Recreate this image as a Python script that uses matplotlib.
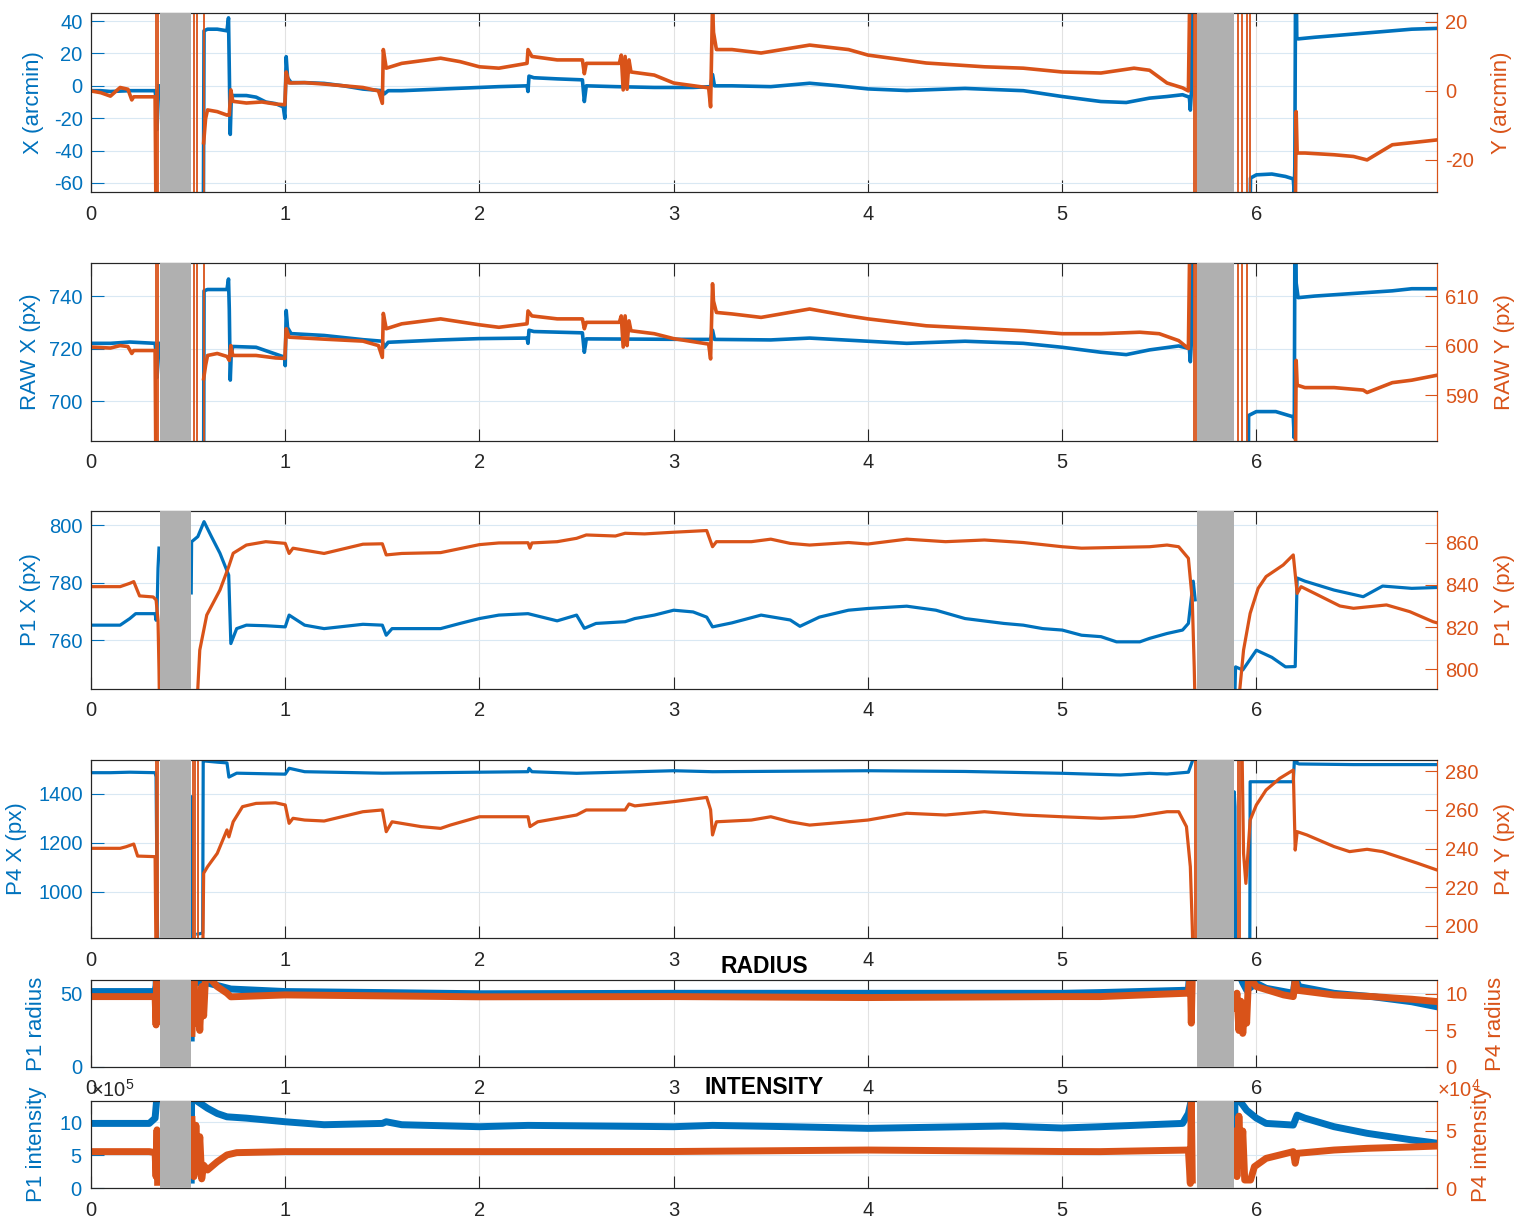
import numpy as np
import matplotlib
matplotlib.use('Agg')
import matplotlib.pyplot as plt
from matplotlib.ticker import ScalarFormatter

plt.rcParams['font.family'] = ['Liberation Sans', 'DejaVu Sans']
plt.rcParams['mathtext.fontset'] = 'custom'
plt.rcParams['mathtext.rm'] = 'Liberation Sans'
plt.rcParams['axes.unicode_minus'] = False

nan = np.nan
BLUE = '#0072BD'
ORANGE = '#D95319'
DARK = '#262626'
GRAY = '#b0b0b0'
XMAX = 6.93

# time windows with no tracking (grey bands)
gaps = [(0.355, 0.515), (5.695, 5.886)]

# ---- panel 1: gaze X / Y in arcmin  (t, value)
x_arcmin = [(0.00, -3), (0.05, -3), (0.10, -3.5), (0.20, -3), (0.30, -3), (0.33, -3), (0.335, -8), (0.34, -27),
            (0.345, -10), (0.35, 0), (0.355, nan),
            (0.578, -100), (0.582, 34), (0.60, 35), (0.65, 35), (0.70, 34), (0.708, 42), (0.712, 10), (0.717, -30),
            (0.722, -8), (0.73, -6), (0.80, -6), (0.85, -7), (0.90, -10), (0.95, -11), (0.99, -13), (0.998, -20),
            (1.005, 18), (1.012, 5), (1.03, 2), (1.10, 2), (1.20, 1.5), (1.30, 0), (1.40, -2), (1.50, -3), (1.51, -5),
            (1.53, -3), (1.60, -3), (1.80, -2), (2.00, -1), (2.10, -0.5), (2.245, 0), (2.25, -3.5), (2.255, 6),
            (2.28, 5), (2.40, 4.3), (2.53, 3.7), (2.54, -9.7), (2.55, 0), (2.70, -0.5), (2.90, -1), (3.10, -1),
            (3.19, -0.5), (3.20, 7), (3.21, 0), (3.30, 0), (3.50, -0.5), (3.70, 1.6), (3.85, 0), (4.00, -1.9),
            (4.20, -2.9), (4.50, -1.6), (4.80, -3), (5.00, -6.6), (5.20, -9.7), (5.33, -10.3), (5.45, -7.6),
            (5.54, -6.6), (5.62, -5.5), (5.655, -7), (5.66, -15), (5.665, -5), (5.675, 100), (5.68, nan),
            (5.965, -100), (5.97, -57), (6.00, -55), (6.08, -54.5), (6.15, -56), (6.19, -57.5), (6.195, -66),
            (6.198, -50), (6.203, 100), (6.208, 30), (6.215, 29), (6.30, 30), (6.50, 32), (6.70, 34), (6.80, 35),
            (6.93, 35.5)]
y_arcmin = [(0.00, 0), (0.05, -0.5), (0.10, -1.5), (0.15, 1), (0.19, 0.5), (0.21, -2.6), (0.22, -1.7), (0.33, -1.7),
            (0.335, -40), (0.336, nan),
            (0.58, -15), (0.59, -8), (0.60, -5.5),
            (0.65, -6), (0.70, -7), (0.712, -7), (0.72, 0.3), (0.73, -3), (0.80, -3.5), (0.88, -3.2), (0.95, -3.8),
            (0.998, -4), (1.005, 5.5), (1.02, 2.3), (1.10, 2.4), (1.20, 2), (1.30, 1.5), (1.40, 1), (1.48, 0),
            (1.50, -3.6), (1.505, 12), (1.52, 6.6), (1.60, 8), (1.80, 9.5), (1.90, 8.5), (2.00, 7), (2.10, 6.6),
            (2.245, 8), (2.25, 12), (2.27, 10), (2.40, 9), (2.53, 9), (2.54, 5), (2.55, 8), (2.72, 8), (2.73, 10.4),
            (2.74, 0.3), (2.75, 10), (2.76, 0.5), (2.77, 9), (2.78, 5.5), (2.90, 4.6), (3.00, 2.3), (3.18, 0.9),
            (3.19, -4.6), (3.20, 25), (3.205, 17), (3.22, 12), (3.30, 12), (3.45, 11), (3.70, 13.3), (3.90, 12),
            (4.00, 10.4), (4.30, 8.1), (4.60, 7), (4.80, 6.6), (5.00, 5.5), (5.20, 5.2), (5.37, 6.6), (5.45, 6),
            (5.54, 2.3), (5.62, 0.9), (5.65, 0), (5.66, 40), (5.662, nan),
            (6.20, -40), (6.205, -6), (6.21, -18), (6.25, -18), (6.40, -18.5), (6.50, -19),
            (6.57, -20), (6.70, -15.6), (6.80, -15), (6.93, -14.2)]
# isolated samples that run off the scale (drawn as thin full-height strokes)
y_arcmin_cuts = [0.337, 0.343, 0.530, 0.547, 0.581, 5.678, 5.690, 5.907, 5.926, 5.952, 5.968]

# ---- panel 2: raw pupil position (px)
raw_x = [(0.00, 722), (0.10, 722), (0.20, 722.5), (0.33, 722), (0.335, 718), (0.34, 709), (0.345, 715), (0.35, 722),
         (0.355, nan),
         (0.578, 600), (0.582, 742), (0.60, 742.5), (0.70, 742.5), (0.708, 746.5), (0.712, 735), (0.717, 708),
         (0.722, 718), (0.73, 720.8), (0.85, 720.5), (0.90, 719.2), (0.998, 716.7), (1.0, 713.5), (1.005, 734.5),
         (1.012, 728), (1.03, 725.7), (1.20, 725), (1.40, 723.4), (1.50, 722.8), (1.51, 720.5), (1.53, 722.4),
         (1.80, 723.3), (2.00, 723.8), (2.245, 724), (2.25, 722), (2.255, 727), (2.28, 726.5), (2.53, 726),
         (2.54, 718.6), (2.55, 723.7), (3.10, 723.5), (3.19, 723.5), (3.20, 727), (3.21, 723.5), (3.50, 723.3),
         (3.70, 724), (4.00, 722.8), (4.20, 722), (4.50, 722.8), (4.80, 722), (5.00, 720.5), (5.20, 718.6),
         (5.33, 717.7), (5.45, 719.5), (5.60, 721), (5.655, 720), (5.66, 715), (5.665, 722), (5.675, 800),
         (5.68, nan),
         (5.955, 600), (5.96, 694.5), (6.00, 696), (6.10, 696), (6.19, 694), (6.195, 686), (6.20, 800),
         (6.205, 745), (6.215, 739.4), (6.30, 740), (6.50, 741), (6.70, 742), (6.80, 742.8), (6.93, 742.8)]
raw_y = [(0.00, 599.7), (0.10, 599.5), (0.15, 600), (0.19, 599.8), (0.21, 598.4), (0.22, 599), (0.33, 599),
         (0.335, 570), (0.336, nan),
         (0.58, 593.3), (0.59, 596),
         (0.60, 598), (0.65, 598.4), (0.70, 597.8), (0.712, 597), (0.72, 600), (0.73, 598), (0.85, 598),
         (0.95, 597.5), (0.998, 597.4), (1.005, 603.4), (1.02, 601.7), (1.20, 601.3), (1.40, 600.9), (1.48, 600),
         (1.50, 597.6), (1.505, 606.5), (1.52, 603.4), (1.60, 604.4), (1.80, 605.4), (1.90, 604.8), (2.00, 604.2),
         (2.10, 603.7), (2.245, 604.4), (2.25, 607), (2.27, 606), (2.40, 605.4), (2.53, 605.4), (2.54, 603.4),
         (2.55, 604.7), (2.72, 604.7), (2.73, 606), (2.74, 599.7), (2.75, 606), (2.76, 600), (2.77, 605),
         (2.78, 603), (2.90, 602.4), (3.00, 601.4), (3.18, 600.3), (3.19, 597.3), (3.20, 612.5), (3.205, 609),
         (3.22, 606.7), (3.30, 606.4), (3.45, 605.7), (3.70, 607.4), (3.90, 606), (4.00, 605.4), (4.30, 604),
         (4.60, 603.4), (4.80, 603), (5.00, 602.4), (5.20, 602.4), (5.40, 602.7), (5.50, 602.4), (5.60, 601),
         (5.65, 599.4), (5.66, 630), (5.662, nan),
         (6.20, 570), (6.205, 597), (6.21, 592), (6.25, 591.5), (6.40, 591.5), (6.55, 591),
         (6.57, 590.5), (6.70, 592.5), (6.80, 593), (6.93, 594)]
raw_y_cuts = [0.337, 0.343, 0.530, 0.547, 0.581, 5.678, 5.690, 5.907, 5.926, 5.952]

# ---- panel 3: first Purkinje image (px)
p1_x = [(0.00, 765.2), (0.15, 765.2), (0.20, 767.5), (0.23, 769.2), (0.33, 769.2), (0.335, 766.9), (0.34, 770),
        (0.345, 785), (0.35, 792), (0.355, nan),
        (0.516, 776.4), (0.518, 794.2), (0.55, 796), (0.582, 801.2), (0.62, 796), (0.664, 790.2), (0.709, 782.6),
        (0.72, 758.8), (0.75, 764), (0.80, 765.2), (0.90, 765), (1.00, 764.6), (1.02, 768.7), (1.10, 765.2),
        (1.20, 764), (1.40, 765.5), (1.50, 765.2), (1.52, 761.7), (1.55, 764), (1.80, 764), (1.90, 765.8),
        (2.00, 767.5), (2.10, 768.7), (2.25, 769.2), (2.40, 766.7), (2.50, 768.7), (2.54, 764.1), (2.60, 765.8),
        (2.75, 766.4), (2.80, 767.5), (2.90, 768.7), (3.00, 770.4), (3.10, 769.8), (3.17, 768), (3.20, 764.6),
        (3.30, 766), (3.45, 768.7), (3.60, 767), (3.65, 764.8), (3.75, 768), (3.90, 770.4), (4.00, 771),
        (4.20, 771.8), (4.35, 770.4), (4.50, 767.5), (4.70, 765.8), (4.80, 765.2), (4.90, 764), (5.00, 763.5),
        (5.10, 761.7), (5.20, 761.2), (5.28, 759.4), (5.40, 759.4), (5.45, 760.6), (5.54, 762.3), (5.62, 763.5),
        (5.65, 765.8), (5.675, 780.5), (5.685, 774), (5.69, nan),
        (5.889, 740), (5.893, 750.7), (5.93, 749.6), (6.00, 756.5), (6.08, 754), (6.15, 750.7), (6.20, 750.8),
        (6.21, 781.6), (6.25, 780.5), (6.40, 777.4), (6.55, 775.1), (6.65, 778.8), (6.80, 778), (6.93, 778.3)]
p1_y = [(0.00, 839.2), (0.15, 839.2), (0.20, 840.8), (0.22, 841.6), (0.25, 834.8), (0.32, 834.3), (0.335, 832.9),
        (0.345, 823.3), (0.35, 800), (0.353, 780), (0.355, nan),
        (0.544, 780), (0.56, 809), (0.596, 825.7), (0.664, 837.6), (0.709, 848.7), (0.732, 855.1), (0.80, 859),
        (0.90, 860.6), (1.00, 859.8), (1.02, 855), (1.04, 857.5), (1.20, 855), (1.40, 859.4), (1.50, 859.6),
        (1.52, 854.3), (1.60, 855), (1.80, 855.4), (2.00, 859.2), (2.10, 860), (2.25, 860.1), (2.26, 857.5),
        (2.27, 860), (2.40, 860.6), (2.50, 862.2), (2.55, 863.8), (2.70, 863.3), (2.75, 864.6), (2.85, 864.3),
        (3.00, 865.1), (3.17, 865.9), (3.20, 858.2), (3.22, 860.6), (3.40, 860.6), (3.50, 861.8), (3.60, 859.8),
        (3.70, 859), (3.90, 860.2), (4.00, 859.5), (4.20, 861.8), (4.40, 860.6), (4.60, 861.4), (4.80, 860.2),
        (5.00, 858.2), (5.10, 857.5), (5.30, 857.9), (5.45, 858.2), (5.54, 859), (5.60, 858.2), (5.65, 852.7),
        (5.67, 832.9), (5.68, 801), (5.685, 780), (5.69, nan),
        (5.904, 780), (5.934, 809), (5.968, 826.5), (6.009, 838.4), (6.05, 844), (6.138, 849.5), (6.19, 854.3),
        (6.21, 836), (6.23, 839.2), (6.30, 836), (6.43, 830), (6.50, 828.9), (6.67, 830.5), (6.79, 827.3),
        (6.91, 822.5), (6.93, 822)]

# ---- panel 4: fourth Purkinje image (px)
p4_x = [(0.00, 1487), (0.10, 1487), (0.20, 1489), (0.33, 1487), (0.335, 1470), (0.34, 1000), (0.345, 700),
        (0.35, nan),
        (0.516, 700), (0.518, 1389), (0.52, 700), (0.53, nan),
        (0.55, 828), (0.575, 832), (0.578, 1600), (0.582, 1535), (0.65, 1530), (0.70, 1527), (0.71, 1469),
        (0.75, 1485), (1.00, 1481), (1.02, 1505), (1.10, 1491), (1.50, 1485), (2.00, 1489), (2.25, 1491),
        (2.255, 1505), (2.27, 1491), (2.50, 1484.5), (3.00, 1495), (3.20, 1491), (4.00, 1495), (4.50, 1492),
        (5.00, 1484.5), (5.30, 1477.6), (5.45, 1484.5), (5.54, 1481.6), (5.65, 1489), (5.67, 1533),
        (5.675, 1600), (5.68, nan),
        (5.884, 700), (5.886, 1409), (5.89, 1348), (5.893, 700), (5.90, nan),
        (5.966, 700), (5.968, 1450), (6.19, 1450), (6.20, 1600), (6.21, 1525), (6.22, 1522.6), (6.50, 1520),
        (6.93, 1520)]
p4_y = [(0.00, 240.1), (0.15, 240.1), (0.18, 240.9), (0.22, 242.3), (0.24, 236.1), (0.33, 235.8), (0.335, 180),
        (0.336, nan),
        (0.575, 180), (0.58, 227.2), (0.60, 230.6), (0.65, 237.5), (0.70, 249.6), (0.71, 246), (0.732, 253.8),
        (0.78, 261.6), (0.85, 263.3), (0.95, 263.6), (1.00, 262.5), (1.02, 253), (1.04, 255.6), (1.10, 254.7),
        (1.20, 254.2), (1.40, 259), (1.50, 259.9), (1.52, 248.7), (1.55, 253.8), (1.70, 251.3), (1.80, 250.4),
        (1.85, 252.1), (2.00, 256.4), (2.25, 256.4), (2.26, 251.3), (2.30, 253.8), (2.50, 257.3), (2.55, 259.9),
        (2.75, 259.9), (2.77, 263), (2.80, 262), (3.00, 264.2), (3.17, 266.4), (3.19, 260), (3.20, 247),
        (3.22, 253.8), (3.40, 254.7), (3.50, 256.4), (3.60, 253.8), (3.70, 252.1), (3.90, 253.8), (4.00, 254.7),
        (4.20, 258.2), (4.40, 257.3), (4.60, 259), (4.80, 257.3), (5.00, 256.4), (5.20, 255.6), (5.37, 256.4),
        (5.54, 259), (5.60, 259), (5.64, 251.3), (5.66, 230.6), (5.67, 199.7), (5.675, 180), (5.68, nan),
        (5.925, 300), (5.934, 237.5), (5.946, 222), (5.968, 254.7), (6.00, 262.5), (6.05, 270.2), (6.12, 276.2),
        (6.19, 280.5), (6.20, 239.2), (6.21, 248.7), (6.26, 247), (6.40, 241), (6.48, 238.4), (6.57, 239.6),
        (6.65, 238.4), (6.83, 232.4), (6.93, 228.9)]
p4_y_cuts = [0.337, 0.343, 0.527, 0.538, 0.549, 5.682, 5.692, 5.906, 5.914]

# ---- panel 5: radius
p1_rad = [(0.00, 51), (0.33, 51), (0.335, 55), (0.34, 70), (0.345, nan),
          (0.516, 19.6), (0.518, 70), (0.55, 57), (0.60, 56.8), (0.70, 53.4), (0.72, 52.7), (1.00, 51),
          (1.50, 50.3), (2.00, 49.5), (3.00, 49.8), (4.00, 49.8), (5.00, 49.8), (5.196, 50.3), (5.65, 51.9),
          (5.66, 70), (5.665, nan),
          (5.89, 70), (5.93, 57), (5.95, 52), (6.00, 56.5), (6.05, 53.2), (6.19, 49.8), (6.20, 60), (6.22, 54.3),
          (6.40, 49.8), (6.60, 47.5), (6.80, 44.1), (6.93, 40.7)]
p4_rad = [(0.00, 9.63), (0.33, 9.63), (0.335, 5.75), (0.338, 12.5), (0.342, 7), (0.345, nan),
          (0.52, 4.6), (0.53, 12.5), (0.54, 6), (0.55, 10), (0.56, 5), (0.57, 11), (0.58, 7), (0.59, 12.5),
          (0.60, 12.5), (0.65, 11), (0.70, 10.1), (0.72, 9.6), (1.00, 9.86), (2.00, 9.6), (3.00, 9.63),
          (4.00, 9.5), (5.00, 9.63), (5.196, 9.63), (5.65, 10.1), (5.66, 12.5), (5.665, 6), (5.67, 12.5),
          (5.675, nan),
          (5.89, 8), (5.90, 10.1), (5.91, 5), (5.92, 9), (5.93, 4.6), (5.94, 8), (5.95, 6), (5.96, 12.5),
          (6.00, 11), (6.14, 9.86), (6.19, 9.63), (6.20, 12), (6.21, 10.5), (6.40, 9.86), (6.60, 9.63),
          (6.80, 9.27), (6.93, 8.95)]

# ---- panel 6: intensity
p1_int = [(0.00, 9.8e5), (0.30, 9.8e5), (0.33, 10.6e5), (0.34, 14e5), (0.345, nan),
          (0.516, 1.2e5), (0.518, 14e5), (0.55, 13.1e5), (0.60, 12.1e5), (0.65, 11.3e5), (0.70, 10.8e5),
          (0.80, 10.6e5), (1.00, 10.05e5), (1.20, 9.6e5), (1.50, 9.8e5), (1.52, 10.05e5), (1.60, 9.6e5),
          (2.00, 9.3e5), (2.25, 9.5e5), (3.00, 9.3e5), (3.20, 9.5e5), (3.60, 9.3e5), (4.00, 9.05e5),
          (4.50, 9.3e5), (4.70, 9.4e5), (5.00, 9.1e5), (5.196, 9.3e5), (5.62, 9.8e5), (5.65, 11.3e5),
          (5.67, 14e5), (5.675, nan),
          (5.886, 2.7e5), (5.89, 14e5), (5.92, 13e5), (5.95, 11.8e5), (6.00, 10.6e5), (6.05, 9.8e5),
          (6.19, 9.55e5), (6.21, 11.06e5), (6.25, 10.6e5), (6.40, 9.3e5), (6.57, 8.3e5), (6.80, 7.3e5),
          (6.93, 6.8e5)]
p4_int = [(0.00, 3.19e4), (0.30, 3.19e4), (0.33, 3.1e4), (0.335, 1.0e4), (0.34, 5.1e4), (0.343, 0.5e4),
          (0.345, nan),
          (0.52, 6.0e4), (0.53, 1.0e4), (0.54, 5.5e4), (0.55, 1.5e4), (0.56, 4.5e4), (0.57, 0.8e4), (0.58, 2.0e4),
          (0.60, 1.58e4), (0.65, 2.3e4), (0.70, 2.9e4), (0.75, 3.1e4), (1.00, 3.19e4), (2.00, 3.19e4),
          (3.00, 3.2e4), (4.00, 3.33e4), (5.00, 3.2e4), (5.196, 3.19e4), (5.65, 3.33e4), (5.66, 0.4e4),
          (5.665, 8e4), (5.67, 0.7e4), (5.675, nan),
          (5.89, 5e4), (5.90, 1e4), (5.91, 6.3e4), (5.92, 2e4), (5.93, 5e4), (5.94, 0.7e4), (5.97, 0.7e4),
          (5.99, 1.87e4), (6.05, 2.6e4), (6.19, 3.19e4), (6.20, 2.17e4), (6.21, 3.04e4), (6.40, 3.33e4),
          (6.57, 3.48e4), (6.80, 3.6e4), (6.93, 3.68e4)]


W, H = 1519, 1219
fig = plt.figure(figsize=(W / 100, H / 100), dpi=100)


def rect(top, bottom):
    return [91 / W, 1 - bottom / H, 1346 / W, (bottom - top) / H]


def panel(box, left, right, ylim_l, ylim_r, ticks_l, ticks_r, lab_l, lab_r, lx, rx, lw,
          cuts=(), title=None, pow_l=None, pow_r=None):
    ax = fig.add_axes(box)
    ax2 = ax.twinx()

    t, v = zip(*left)
    ax.plot(t, v, color=BLUE, lw=lw, solid_joinstyle='round')
    t, v = zip(*right)
    ax2.plot(t, v, color=ORANGE, lw=lw, solid_joinstyle='round', zorder=2)
    for c in cuts:
        ax2.axvline(c, color=ORANGE, lw=1.3, zorder=2)
    for a, b in gaps:
        ax2.axvspan(a, b, color=GRAY, lw=0, zorder=5)

    ax.set_xlim(0, XMAX)
    ax.set_ylim(*ylim_l)
    ax2.set_ylim(*ylim_r)
    ax.set_xticks(range(7))
    ax.set_yticks(ticks_l)
    ax2.set_yticks(ticks_r)

    ax.xaxis.grid(True, color='#e2e2e2', lw=0.8)
    ax.yaxis.grid(True, color='#d9e8f3', lw=0.8)
    ax.set_axisbelow(True)

    ax.tick_params(axis='x', direction='in', top=True, length=9, width=0.8, color=DARK,
                   labelcolor=DARK, labelsize=14.5, pad=9)
    ax.tick_params(axis='y', direction='in', length=9, width=0.8, color=BLUE,
                   labelcolor=BLUE, labelsize=14.5, pad=6)
    ax2.tick_params(axis='y', direction='in', length=9, width=0.8, color=ORANGE,
                    labelcolor=ORANGE, labelsize=14.5, pad=6)

    for a in (ax, ax2):
        for s in ('top', 'bottom', 'left'):
            a.spines[s].set_color(DARK)
            a.spines[s].set_linewidth(0.8)
        a.spines['right'].set_color(ORANGE)
        a.spines['right'].set_linewidth(0.8)

    if pow_l:
        f = ScalarFormatter(useMathText=True)
        f.set_powerlimits((pow_l, pow_l))
        ax.yaxis.set_major_formatter(f)
        ax.yaxis.get_offset_text().set_fontsize(14.5)
        ax.yaxis.get_offset_text().set_color(DARK)
    if pow_r:
        f = ScalarFormatter(useMathText=True)
        f.set_powerlimits((pow_r, pow_r))
        ax2.yaxis.set_major_formatter(f)
        off = ax2.yaxis.get_offset_text()
        off.set_fontsize(14.5)
        off.set_color(ORANGE)
        off.set_ha('left')
        off.set_x(1.0)

    ax.set_ylabel(lab_l, color=BLUE, fontsize=16)
    ax2.set_ylabel(lab_r, color=ORANGE, fontsize=16)
    ax.yaxis.set_label_coords(lx, 0.5)
    ax2.yaxis.set_label_coords(rx, 0.5)

    if title:
        ax.set_title(title, fontsize=16.5, fontweight='bold', pad=5)
    return ax, ax2


panel(rect(13, 192), x_arcmin, y_arcmin, (-65.6, 45), (-29.3, 22.6),
      [-60, -40, -20, 0, 20, 40], [-20, 0, 20], 'X (arcmin)', 'Y (arcmin)', -0.035, 1.040, 2.6,
      cuts=y_arcmin_cuts)
panel(rect(263, 441), raw_x, raw_y, (684.8, 752.6), (580.7, 616.7),
      [700, 720, 740], [590, 600, 610], 'RAW X (px)', 'RAW Y (px)', -0.037, 1.042, 2.6,
      cuts=raw_y_cuts)
panel(rect(511, 689), p1_x, p1_y, (743, 804.9), (790.5, 875.2),
      [760, 780, 800], [800, 820, 840, 860], 'P1 X (px)', 'P1 Y (px)', -0.037, 1.042, 2.3)
panel(rect(760, 938), p4_x, p4_y, (812, 1538.8), (193.8, 285.7),
      [1000, 1200, 1400], [200, 220, 240, 260, 280], 'P4 X (px)', 'P4 Y (px)', -0.0475, 1.042, 2.3,
      cuts=p4_y_cuts)
panel(rect(980, 1067), p1_rad, p4_rad, (0, 58.8), (0, 11.9),
      [0, 50], [0, 5, 10], 'P1 radius', 'P4 radius', -0.033, 1.036, 5.0, title='RADIUS')
panel(rect(1101, 1188), p1_int, p4_int, (0, 1.32e6), (0, 7.63e4),
      [0, 5e5, 1e6], [0, 5e4], 'P1 intensity', 'P4 intensity', -0.033, 1.025, 5.0,
      title='INTENSITY', pow_l=5, pow_r=4)

fig.savefig('out.png', dpi=100, facecolor='white')
